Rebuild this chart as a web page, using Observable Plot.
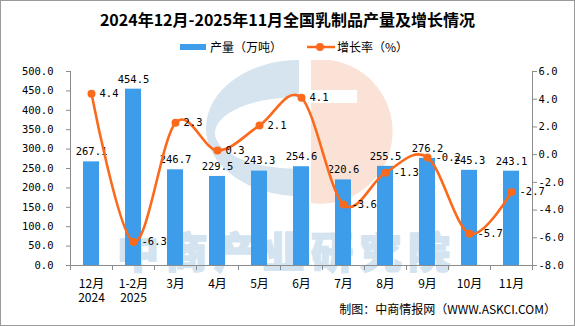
<!DOCTYPE html>
<html><head><meta charset="utf-8">
<script src="https://cdn.jsdelivr.net/npm/d3@7"></script>
<script src="https://cdn.jsdelivr.net/npm/@observablehq/plot@0.6"></script>
<style>
body{margin:0;background:#fff;}
#wrap{position:relative;width:575px;height:326px;overflow:hidden;background:#fff;font-family:"Noto Sans CJK SC",sans-serif;}
#logo{position:absolute;left:0;top:0;}
#wm{position:absolute;left:117px;top:229px;font-size:42px;font-weight:900;color:#d3e4f0;-webkit-text-stroke:1.6px #d3e4f0;letter-spacing:6.5px;white-space:nowrap;line-height:42px;}
#chart{position:absolute;left:0;top:0;}
#title{position:absolute;left:0;width:575px;top:8px;text-align:center;font-size:16px;font-weight:700;color:#000;line-height:22px;}
#legend{position:absolute;top:38px;left:180px;font-size:12px;color:#000;display:flex;align-items:center;line-height:18px;white-space:nowrap;}
#footer{position:absolute;right:19px;top:300px;font-size:12px;color:#000;line-height:18px;white-space:nowrap;}
#border{position:absolute;left:0;top:0;width:573px;height:324px;border:1px solid #9a9a9a;pointer-events:none;}
</style></head><body>
<div id="wrap">
<svg id="logo" width="575" height="326">
  <path fill="#d5e4ee" fill-rule="evenodd" d="M299,60 A93,68 0 0 0 299,196 Z M299,97 A84,36 0 0 0 299,169 Z"/>
  <path fill="#fbe2d6" d="M311,60 L330,60 A72,72 0 0 1 311,203 Z"/>
  <rect x="305" y="90" width="52" height="13" fill="#fff"/>
</svg>
<div id="wm">中商产业研究院</div>
<div id="chart"></div>
<div id="title">2024年12月-2025年11月全国乳制品产量及增长情况</div>
<div id="legend">
  <span style="display:inline-block;width:26px;height:6px;background:#3d9deb;margin-right:4px"></span><span>产量（万吨）</span>
  <svg width="28" height="10" style="margin-left:25px;margin-right:2px"><line x1="0" y1="5" x2="28" y2="5" stroke="#fb6a1c" stroke-width="2.5"/><circle cx="13" cy="5" r="4" fill="#fb6a1c"/></svg><span>增长率（%）</span>
</div>
<div id="footer">制图：中商情报网（WWW.ASKCI.COM）</div>
<div id="border"></div>
</div>
<script>
const categories = ["12月\n2024","1-2月\n2025","3月","4月","5月","6月","7月","8月","9月","10月","11月"];
const output = [267.1,454.5,246.7,229.5,243.3,254.6,220.6,255.5,276.2,245.3,243.1];
const growth = [4.4,-6.3,2.3,0.3,2.1,4.1,-3.6,-1.3,-0.2,-5.7,-2.7];
const leftTicks = [0,50,100,150,200,250,300,350,400,450,500];
const rightTicks = [-8,-6,-4,-2,0,2,4,6];
const gMin = -8, gMax = 6, yMax = 500;
const toY = g => (g - gMin) / (gMax - gMin) * yMax;
const fromY = v => v / yMax * (gMax - gMin) + gMin;

const data = categories.map((c, i) => ({cat: c, out: output[i], g: growth[i], gy: toY(growth[i])}));
const numFont = "DejaVu Sans Mono";
const chart = Plot.plot({
  width: 575, height: 326,
  marginTop: 71, marginBottom: 61, marginLeft: 70, marginRight: 43,
  style: {background: "transparent", fontFamily: numFont, fontSize: "10.5px", color: "#000"},
  x: {type: "band", domain: categories, paddingInner: 0.62, paddingOuter: 0.31, label: null},
  y: {domain: [0, yMax], label: null},
  marks: [
    Plot.barY(data, {x: "cat", y: "out", fill: "#3d9deb"}),
    Plot.frame({anchor: "left", stroke: "#8c8c8c"}),
    Plot.frame({anchor: "right", stroke: "#8c8c8c"}),
    Plot.frame({anchor: "bottom", stroke: "#8c8c8c"}),
    Plot.ruleX(data, {x: "cat", y1: 0, y2: 0, dx: -21, insetBottom: -5, stroke: "#8c8c8c"}),
    Plot.ruleX(data.slice(-1), {x: "cat", y1: 0, y2: 0, dx: 21, insetBottom: -5, stroke: "#8c8c8c"}),
    Plot.axisY({ticks: leftTicks, tickSize: 4, tickPadding: 13, tickFormat: d => d.toFixed(1), stroke: "#8c8c8c", fontSize: 10.5, fontFamily: numFont}),
    Plot.axisY({anchor: "right", ticks: rightTicks.map(toY), tickSize: 4, tickPadding: 2, tickFormat: d => fromY(d).toFixed(1), stroke: "#8c8c8c", fontSize: 10.5, fontFamily: numFont}),
    Plot.axisX({tickSize: 0, tickPadding: 12, fontSize: 12, fontFamily: "Noto Sans CJK SC", lineHeight: 1.2}),
    Plot.text(data, {x: "cat", y: "out", text: d => d.out.toFixed(1), dy: -10, fill: "#000", fontSize: 10.5}),
    Plot.line(data, {x: "cat", y: "gy", stroke: "#fb6a1c", strokeWidth: 2.6, curve: "cardinal"}),
    Plot.dot(data, {x: "cat", y: "gy", r: 4, fill: "#fb6a1c"}),
    Plot.text(data, {x: "cat", y: "gy", text: d => d.g.toFixed(1), dx: 8, textAnchor: "start", fill: "#000", fontSize: 10.5})
  ]
});
document.getElementById("chart").appendChild(chart);
</script>
</body></html>
